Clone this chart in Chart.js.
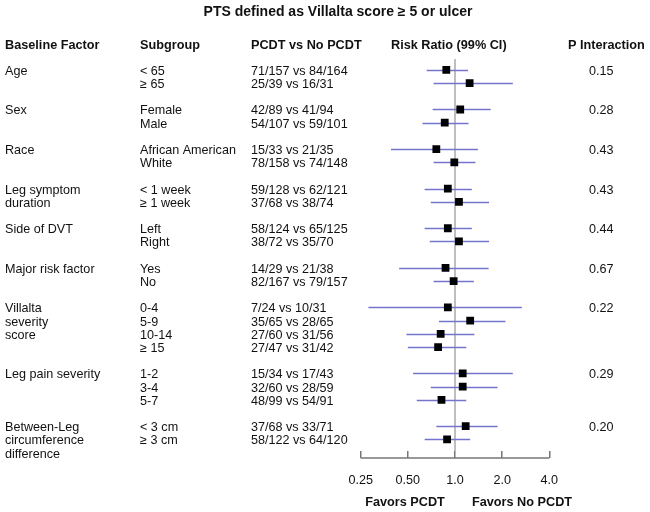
<!DOCTYPE html>
<html>
<head>
<meta charset="utf-8">
<script src="https://cdn.jsdelivr.net/npm/chart.js@4.4.1/dist/chart.umd.min.js"></script>
<style>
  body { margin: 0; background: #fff; }
  #wrap { width: 650px; height: 512px; position: relative; }
</style>
</head>
<body>
<div id="wrap"><canvas id="forest"></canvas></div>
<script>
// rows (one per subgroup), line index = vertical slot in the table
const subgroups = ['< 65', '≥ 65', 'Female', 'Male', 'African American', 'White',
  '< 1 week', '≥ 1 week', 'Left', 'Right', 'Yes', 'No',
  '0-4', '5-9', '10-14', '≥ 15', '1-2', '3-4', '5-7', '< 3 cm', '≥ 3 cm'];
const counts = ['71/157 vs 84/164', '25/39 vs 16/31', '42/89 vs 41/94', '54/107 vs 59/101',
  '15/33 vs 21/35', '78/158 vs 74/148', '59/128 vs 62/121', '37/68 vs 38/74',
  '58/124 vs 65/125', '38/72 vs 35/70', '14/29 vs 21/38', '82/167 vs 79/157',
  '7/24 vs 10/31', '35/65 vs 28/65', '27/60 vs 31/56', '27/47 vs 31/42',
  '15/34 vs 17/43', '32/60 vs 28/59', '48/99 vs 54/91', '37/68 vs 33/71', '58/122 vs 64/120'];
const riskRatio = [0.88, 1.24, 1.08, 0.86, 0.76, 0.99, 0.90, 1.06, 0.90, 1.06, 0.87,
  0.98, 0.90, 1.25, 0.81, 0.78, 1.12, 1.12, 0.82, 1.17, 0.89];
const ciLow = [0.66, 0.73, 0.72, 0.62, 0.39, 0.73, 0.64, 0.70, 0.64, 0.69, 0.44,
  0.73, 0.28, 0.79, 0.49, 0.50, 0.54, 0.70, 0.57, 0.76, 0.64];
const ciHigh = [1.21, 2.34, 1.69, 1.22, 1.40, 1.35, 1.28, 1.65, 1.28, 1.65, 1.64,
  1.32, 2.67, 2.10, 1.33, 1.18, 2.34, 1.87, 1.18, 1.87, 1.25];
const rowLine = [0, 1, 3, 4, 6, 7, 9, 10, 12, 13, 15, 16, 18, 19, 20, 21, 23, 24, 25, 27, 28];

// baseline factors
const factorNames = [['Age'], ['Sex'], ['Race'], ['Leg symptom', 'duration'], ['Side of DVT'],
  ['Major risk factor'], ['Villalta', 'severity', 'score'], ['Leg pain severity'],
  ['Between-Leg', 'circumference', 'difference']];
const factorLine = [0, 3, 6, 9, 12, 15, 18, 23, 27];
const pInteraction = ['0.15', '0.28', '0.43', '0.43', '0.44', '0.67', '0.22', '0.29', '0.20'];

const tickVals = [0.25, 0.5, 1, 2, 4];
const tickText = ['0.25', '0.50', '1.0', '2.0', '4.0'];

const FONT = '"Liberation Sans", Arial, sans-serif';
const ciColor = '#7474cc';

const tablePlugin = {
  id: 'tablePlugin',
  beforeDatasetsDraw(chart) {
    const { ctx, scales: { x, y }, chartArea } = chart;
    ctx.save();
    // reference line at RR = 1
    const x1 = x.getPixelForValue(1);
    ctx.strokeStyle = '#aaaaaa';
    ctx.lineWidth = 1.5;
    ctx.beginPath();
    ctx.moveTo(x1, 59);
    ctx.lineTo(x1, chartArea.bottom);
    ctx.stroke();
    // confidence intervals
    ctx.strokeStyle = ciColor;
    ctx.lineWidth = 1.5;
    rowLine.forEach((ln, i) => {
      const py = Math.round(y.getPixelForValue(ln)) + 0.5;
      ctx.beginPath();
      ctx.moveTo(x.getPixelForValue(ciLow[i]), py);
      ctx.lineTo(x.getPixelForValue(ciHigh[i]), py);
      ctx.stroke();
    });
    ctx.restore();
  },
  afterDraw(chart) {
    const { ctx, scales: { x, y }, chartArea } = chart;
    ctx.save();
    // axis baseline under the ticks
    const ay = chartArea.bottom + 7;
    ctx.strokeStyle = '#777777';
    ctx.lineWidth = 1.5;
    ctx.beginPath();
    ctx.moveTo(x.getPixelForValue(0.25), ay);
    ctx.lineTo(x.getPixelForValue(4), ay);
    ctx.stroke();

    ctx.fillStyle = '#111';
    ctx.textBaseline = 'middle';
    ctx.textAlign = 'center';
    ctx.font = 'bold 14px ' + FONT;
    ctx.fillText('PTS defined as Villalta score ≥ 5 or ulcer', 338, 12);

    ctx.textAlign = 'left';
    ctx.font = 'bold 12.7px ' + FONT;
    ctx.fillText('Baseline Factor', 5, 45);
    ctx.fillText('Subgroup', 140, 45);
    ctx.fillText('PCDT vs No PCDT', 251, 45);
    ctx.fillText('Risk Ratio (99% CI)', 391, 45);
    ctx.fillText('P Interaction', 568, 45);

    ctx.textAlign = 'center';
    ctx.fillText('Favors PCDT', 405, 502);
    ctx.fillText('Favors No PCDT', 522, 502);

    ctx.textAlign = 'left';
    ctx.font = '12.6px ' + FONT;
    rowLine.forEach((ln, i) => {
      const py = y.getPixelForValue(ln) + 1.5;
      ctx.fillText(subgroups[i], 140, py);
      ctx.fillText(counts[i], 251, py);
    });
    factorNames.forEach((lines, i) => {
      lines.forEach((t, k) => {
        ctx.fillText(t, 5, y.getPixelForValue(factorLine[i] + k) + 1.5);
      });
      ctx.fillText(pInteraction[i], 589, y.getPixelForValue(factorLine[i]) + 1.5);
    });
    ctx.restore();
  }
};

new Chart(document.getElementById('forest'), {
  type: 'scatter',
  data: {
    datasets: [{
      data: riskRatio.map((v, i) => ({ x: v, y: rowLine[i] })),
      pointStyle: 'rect',
      pointRadius: 5.5,
      pointHoverRadius: 5.5,
      backgroundColor: '#000',
      borderWidth: 0
    }]
  },
  options: {
    responsive: true,
    maintainAspectRatio: false,
    animation: false,
    events: [],
    layout: { padding: { left: 360.7, right: 100.7, top: 56.7, bottom: 9 } },
    plugins: { legend: { display: false }, tooltip: { enabled: false } },
    scales: {
      x: {
        type: 'logarithmic',
        min: 0.25,
        max: 4,
        afterBuildTicks: (scale) => { scale.ticks = tickVals.map(v => ({ value: v })); },
        ticks: {
          callback: (v) => tickText[tickVals.indexOf(v)],
          font: { family: FONT, size: 12.6 },
          color: '#111',
          padding: 15,
          maxRotation: 0,
          autoSkip: false
        },
        grid: { drawOnChartArea: false, drawTicks: true, tickLength: 7, color: '#777', lineWidth: 1.5 },
        border: { display: false }
      },
      y: {
        display: false,
        reverse: true,
        min: -1,
        max: 28.87
      }
    }
  },
  plugins: [tablePlugin]
});
</script>
</body>
</html>
